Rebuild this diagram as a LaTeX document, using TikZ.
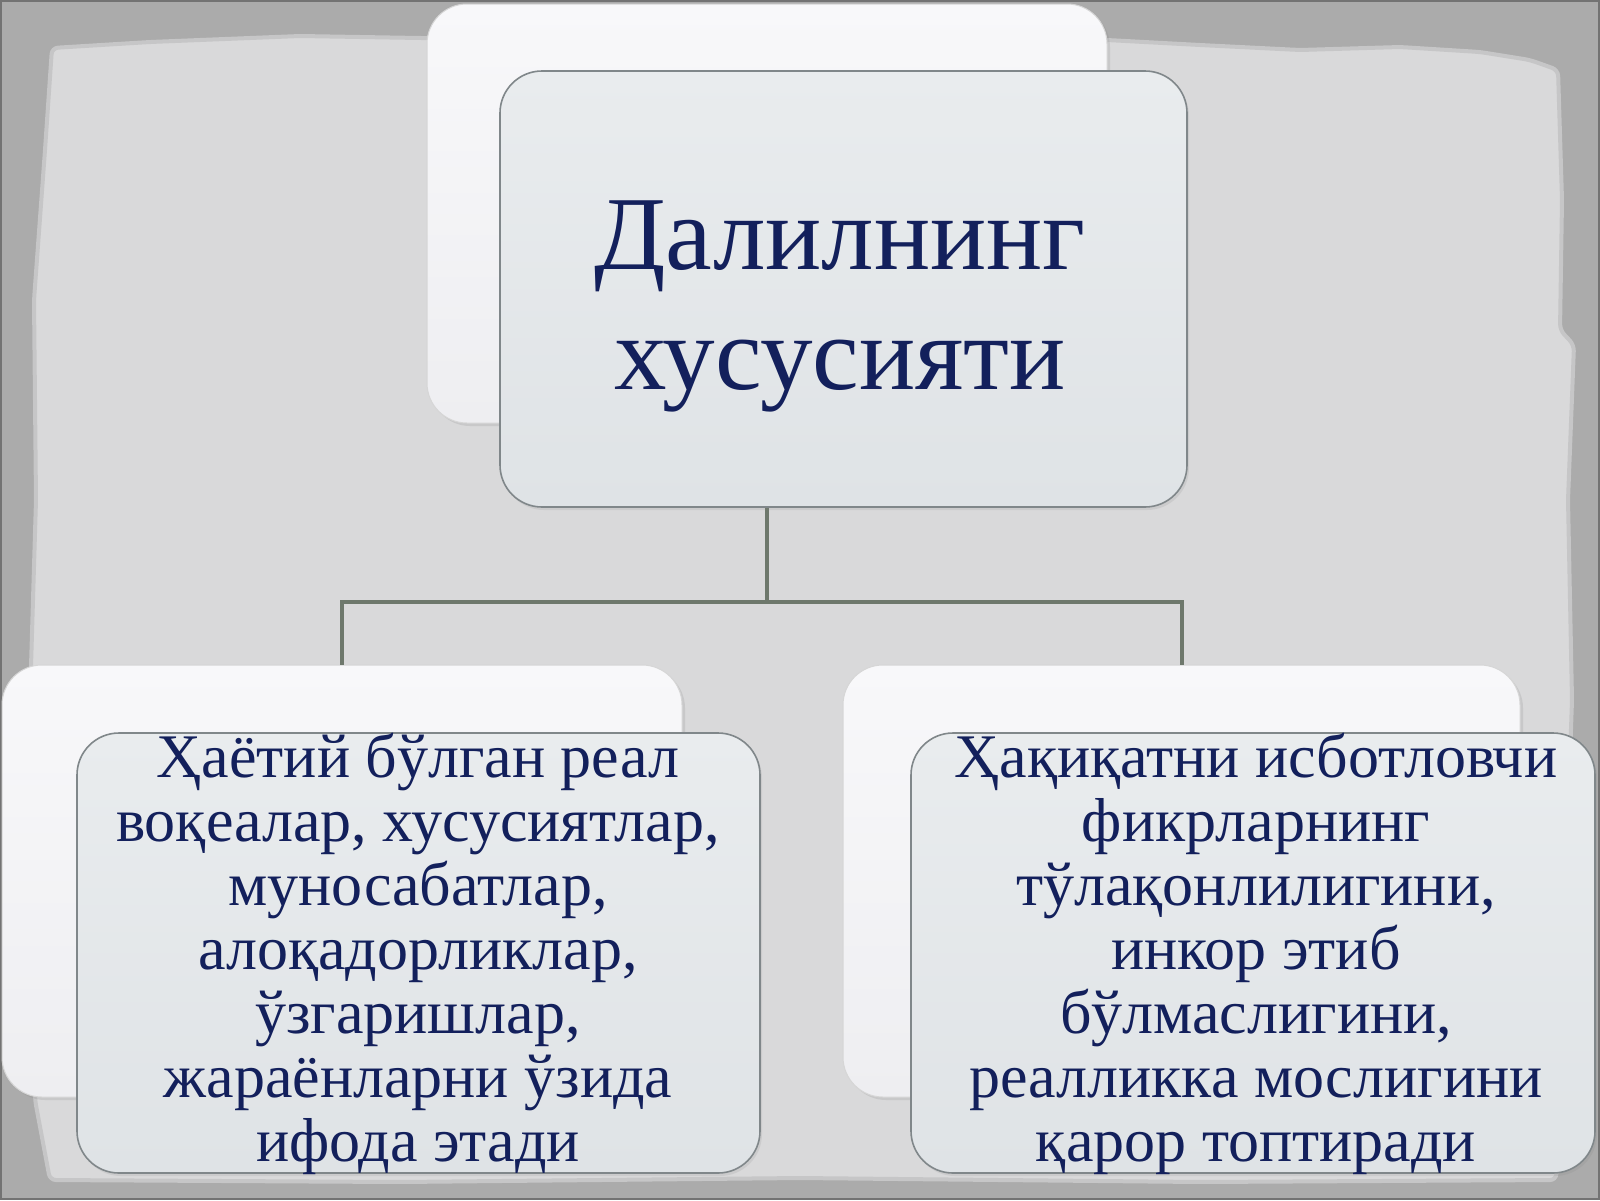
\documentclass[tikz,border=0pt]{standalone}
\usepackage{fontspec}
\setmainfont{Liberation Serif}
\usetikzlibrary{shadows}
\definecolor{outergray}{HTML}{ABABAB}
\definecolor{papergray}{HTML}{D9D9DA}
\definecolor{paperedge}{HTML}{C6C6C7}
\definecolor{navy}{HTML}{13205C}
\definecolor{conncol}{HTML}{6E786C}
\definecolor{fronttop}{HTML}{E9ECEE}
\definecolor{frontbot}{HTML}{DFE3E6}
\definecolor{frontedge}{HTML}{80878A}
\definecolor{backtop}{HTML}{F8F8FA}
\definecolor{backbot}{HTML}{EEEEF1}
\begin{document}
\begin{tikzpicture}[x=1pt,y=-1pt,
  backbox/.style={rectangle, rounded corners=40pt, top color=backtop, bottom color=backbot,
    draw=black!16, line width=1pt, inner sep=0pt,
    drop shadow={opacity=0.18, shadow xshift=3pt, shadow yshift=-3pt}},
  frontbox/.style={rectangle, rounded corners=42pt, top color=fronttop, bottom color=frontbot,
    draw=frontedge, line width=1.6pt, inner sep=0pt,
    drop shadow={opacity=0.15, shadow xshift=2pt, shadow yshift=-3pt}},
  conn/.style={draw=conncol, line width=4pt},
  titletext/.style={text=navy, font=\fontsize{105}{120}\selectfont, align=center, anchor=base, inner sep=0pt},
  bodytext/.style={text=navy, font=\fontsize{62}{64}\selectfont, align=center, anchor=base, inner sep=0pt}]

\useasboundingbox (0,0) rectangle (1600,1200);
\fill[outergray] (0,0) rectangle (1600,1200);

% torn paper sheet
\fill[papergray, draw=paperedge, line width=4pt, rounded corners=6pt]
  (52,48) -- (150,42) -- (300,36) -- (420,38) -- (700,40) -- (1107,40) -- (1200,45)
  -- (1300,50) -- (1400,47) -- (1480,52) -- (1530,60) -- (1558,70) -- (1562,200)
  -- (1560,330) -- (1574,345) -- (1568,500) -- (1572,700) -- (1565,900) -- (1562,1100)
  -- (1556,1180) -- (1200,1182) -- (800,1178) -- (400,1182) -- (50,1180)
  -- (35,1100) -- (38,900) -- (30,700) -- (36,500) -- (34,300) -- (45,150) -- cycle;

\draw[black!55, line width=2pt] (1,1) rectangle (1599,1199);

% back boxes
\node[backbox, minimum width=680pt, minimum height=419pt] (tb) at (767,213.5) {};
\node[backbox, minimum width=680pt, minimum height=432pt] (bl) at (342,881) {};
\node[backbox, minimum width=677pt, minimum height=432pt] (br) at (1181.5,881) {};

% connectors
\coordinate (j) at (767,602);
\draw[conn] (tb.south) -- (j);
\draw[conn] (bl.north) |- (j) -| (br.north);

% front boxes
\node[frontbox, minimum width=687pt, minimum height=436pt] (tf) at (843.5,289) {};
\node[frontbox, minimum width=683pt, minimum height=440pt] (lf) at (418.5,953) {};
\node[frontbox, minimum width=684pt, minimum height=440pt] (rf) at (1253,953) {};

% texts (base anchor = baseline of the last line)
\node[titletext] (title) at (840,389) {Далилнинг\\хусусияти};
\node[bodytext] (lt) at (418,1161) {Ҳаётий бўлган реал\\воқеалар, хусусиятлар,\\муносабатлар,\\алоқадорликлар,\\ўзгаришлар,\\жараёнларни ўзида\\ифода этади};
\node[bodytext] (rt) at (1256,1161) {Ҳақиқатни исботловчи\\фикрларнинг\\тўлақонлилигини,\\инкор этиб\\бўлмаслигини,\\реалликка мослигини\\қарор топтиради};
\end{tikzpicture}
\end{document}
